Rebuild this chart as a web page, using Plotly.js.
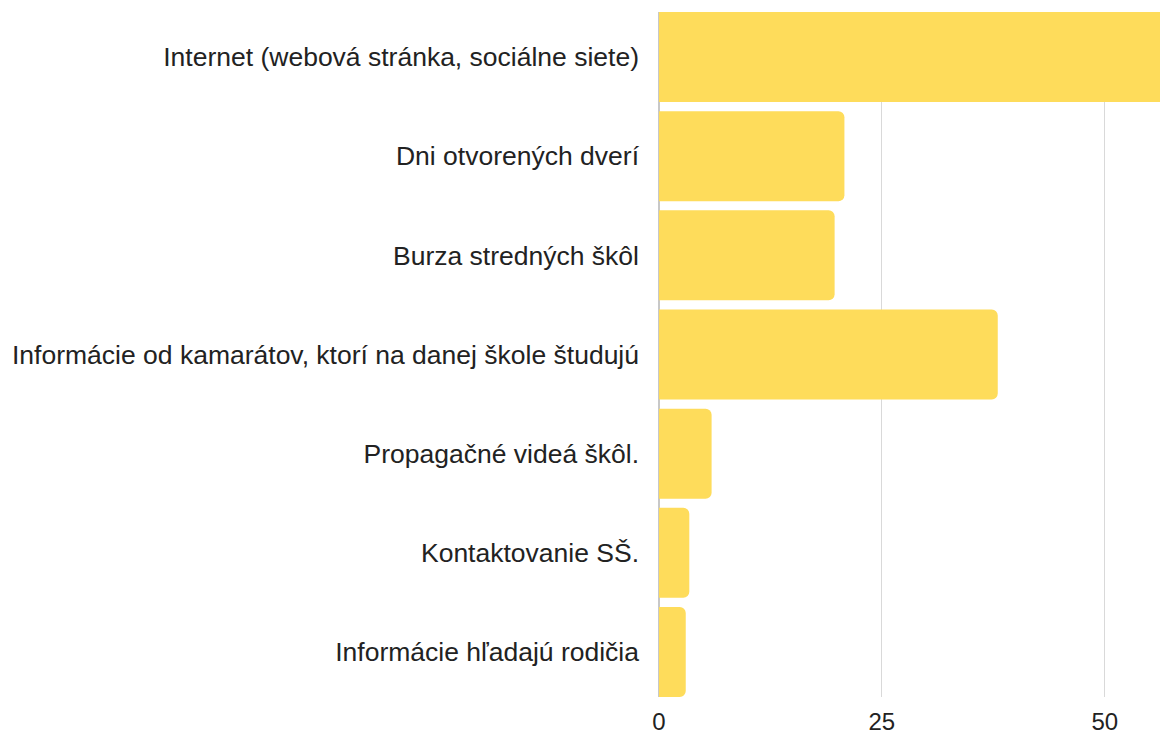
<!DOCTYPE html>
<html>
<head>
<meta charset="utf-8">
<script src="https://cdn.plot.ly/plotly-3.0.1.min.js"></script>
<style>html,body{margin:0;padding:0;background:#fff;}#chart{width:1160px;height:736px;}</style>
</head>
<body>
<div id="chart"></div>
<script>
const categories = [
  "Internet (webová stránka, sociálne siete)",
  "Dni otvorených dverí",
  "Burza stredných škôl",
  "Informácie od kamarátov, ktorí na danej škole študujú",
  "Propagačné videá škôl.",
  "Kontaktovanie SŠ.",
  "Informácie hľadajú rodičia"
];
const values = [60, 20.8, 19.7, 38, 5.9, 3.4, 3];
const xTicks = [0, 25, 50];

const trace = {
  type: "bar",
  orientation: "h",
  y: categories,
  x: values,
  marker: { color: "#FEDC5B", cornerradius: 6 },
  hoverinfo: "skip"
};

const layout = {
  width: 1160,
  height: 736,
  margin: { l: 659, r: 0, t: 12, b: 39, pad: 0 },
  paper_bgcolor: "#ffffff",
  plot_bgcolor: "#ffffff",
  bargap: 0.092,
  showlegend: false,
  font: { family: "Liberation Sans, Arial, sans-serif", size: 26.5, color: "#222222" },
  xaxis: {
    range: [0, 56.2],
    tickvals: xTicks,
    ticktext: xTicks.map(String),
    showgrid: true,
    gridcolor: "#d9d9d9",
    gridwidth: 1,
    zeroline: true,
    zerolinecolor: "#c8c8c8",
    zerolinewidth: 2,
    showline: false,
    ticks: "",
    ticklabelstandoff: 8,
    tickfont: { size: 24, color: "#222222" },
    fixedrange: true
  },
  yaxis: {
    type: "category",
    categoryorder: "array",
    categoryarray: categories,
    range: [6.454, -0.454],
    showgrid: false,
    zeroline: false,
    showline: false,
    ticks: "",
    ticklabelstandoff: 19,
    tickfont: { size: 26.5, color: "#222222" },
    fixedrange: true
  }
};

Plotly.newPlot("chart", [trace], layout, { displayModeBar: false, staticPlot: true });
</script>
</body>
</html>
